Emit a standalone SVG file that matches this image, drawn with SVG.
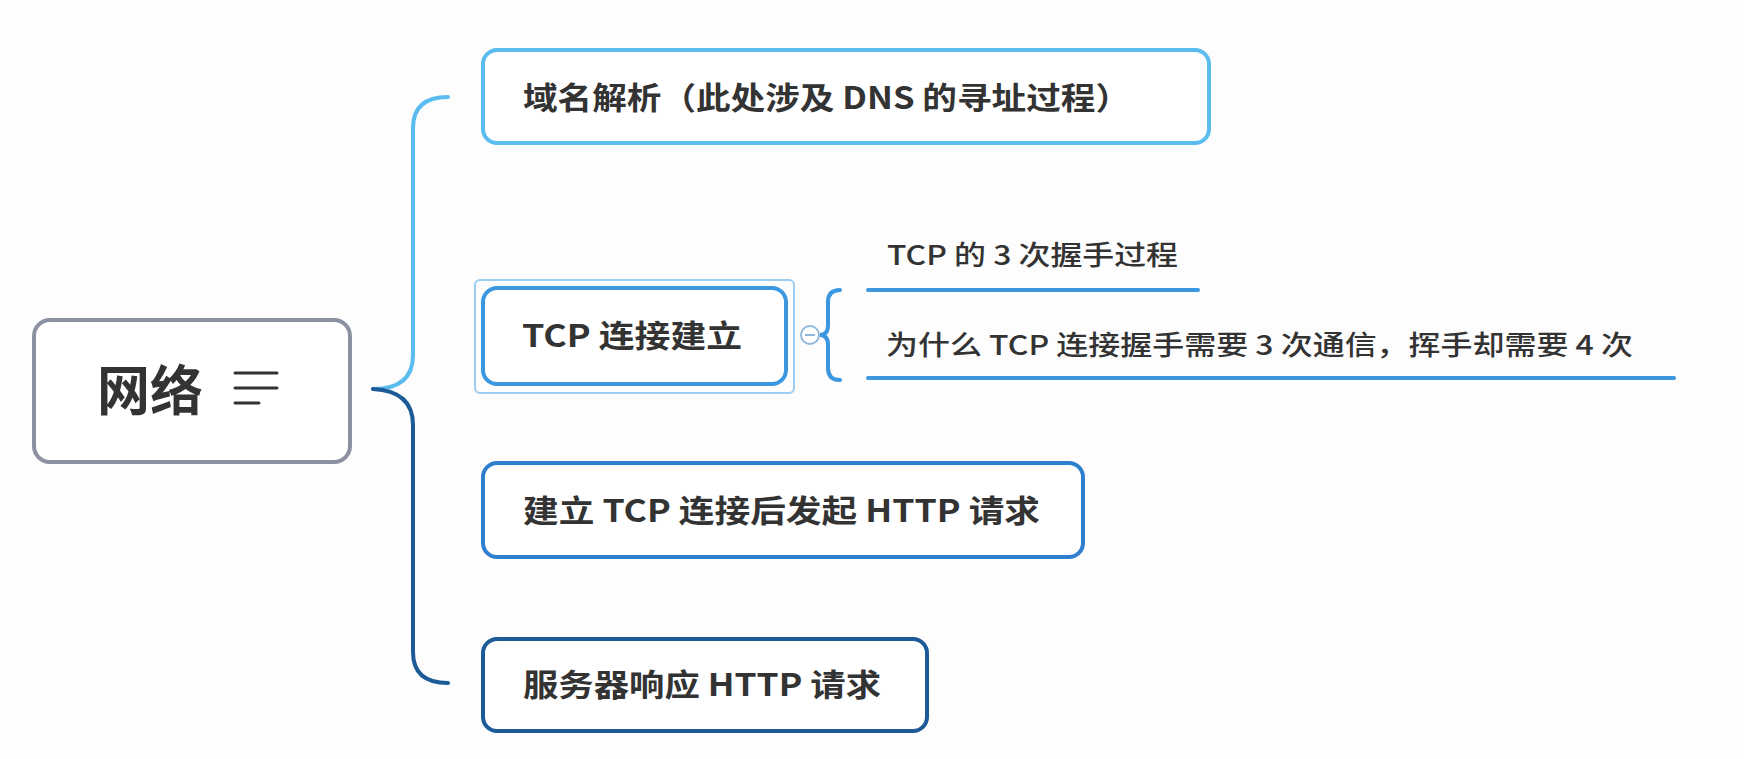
<svg xmlns="http://www.w3.org/2000/svg" width="1744" height="759" viewBox="0 0 1744 759">
<style>
.node{fill:#ffffff;stroke-width:4}
.t{font-family:"Noto Sans CJK SC","Noto Sans",sans-serif;fill:#333333}
.b{font-weight:700;font-size:31px}
.s{font-weight:500;font-size:27px}
.conn{fill:none;stroke-width:4;stroke-linecap:round}
</style>
<rect width="1744" height="759" fill="#fdfdfd"/>
<g id="connectors">
<path class="conn" stroke="#5bbcef" d="M448,97 Q413,97 413,128 L413,355 Q413,389 373,389"/>
<path class="conn" stroke="#1d5b98" d="M373,389 Q413,391 413,425 L413,652 Q413,683 448,683"/>
<path class="conn" stroke="#3b97e0" d="M840,290 Q828,290 828,302 L828,325 Q828,335 820,335 Q828,335 828,345 L828,368 Q828,380 840,380"/>
<line class="conn" stroke="#3b97e0" stroke-linecap="butt" x1="868" y1="290" x2="1198" y2="290"/>
<line class="conn" stroke="#3b97e0" stroke-linecap="butt" x1="868" y1="378" x2="1674" y2="378"/>
</g>
<g id="node-root">
<rect x="34" y="320" width="316" height="142" rx="16" fill="#ffffff" stroke="#8c91a1" stroke-width="4"/>
<text class="t" x="97" y="411" font-size="54" font-weight="700" textLength="106" lengthAdjust="spacingAndGlyphs">网络</text>
<g stroke="#333333" stroke-width="3" stroke-linecap="round">
<line x1="235" y1="373" x2="277" y2="373"/>
<line x1="235" y1="388" x2="277" y2="388"/>
<line x1="235" y1="403" x2="259" y2="403"/>
</g>
</g>
<g id="node-dns">
<rect class="node" x="483" y="50" width="726" height="93" rx="14" stroke="#5bbcef"/>
<text class="t b" x="523" y="109" textLength="607" lengthAdjust="spacingAndGlyphs">域名解析（此处涉及 DNS 的寻址过程）</text>
</g>
<g id="node-tcp">
<rect x="475" y="280" width="319" height="113" rx="5" fill="none" stroke="#9ccdf3" stroke-width="2"/>
<rect class="node" x="483" y="288" width="303" height="96" rx="14" stroke="#3b97e0"/>
<text class="t b" x="522" y="347" textLength="220" lengthAdjust="spacingAndGlyphs">TCP 连接建立</text>
<circle cx="810" cy="335" r="9" fill="#ffffff" stroke="#8fb8da" stroke-width="2"/>
<line x1="805" y1="335" x2="815" y2="335" stroke="#8fb8da" stroke-width="2"/>
</g>
<g id="node-tcp-1">
<text class="t s" x="887" y="265" textLength="291" lengthAdjust="spacingAndGlyphs">TCP 的 3 次握手过程</text>
</g>
<g id="node-tcp-2">
<text class="t s" x="886" y="355" textLength="747" lengthAdjust="spacingAndGlyphs">为什么 TCP 连接握手需要 3 次通信，挥手却需要 4 次</text>
</g>
<g id="node-http">
<rect class="node" x="483" y="463" width="600" height="94" rx="14" stroke="#2f7fcf"/>
<text class="t b" x="523" y="522" textLength="517" lengthAdjust="spacingAndGlyphs">建立 TCP 连接后发起 HTTP 请求</text>
</g>
<g id="node-resp">
<rect class="node" x="483" y="639" width="444" height="92" rx="14" stroke="#1d5b98"/>
<text class="t b" x="523" y="696" textLength="358" lengthAdjust="spacingAndGlyphs">服务器响应 HTTP 请求</text>
</g>
</svg>
